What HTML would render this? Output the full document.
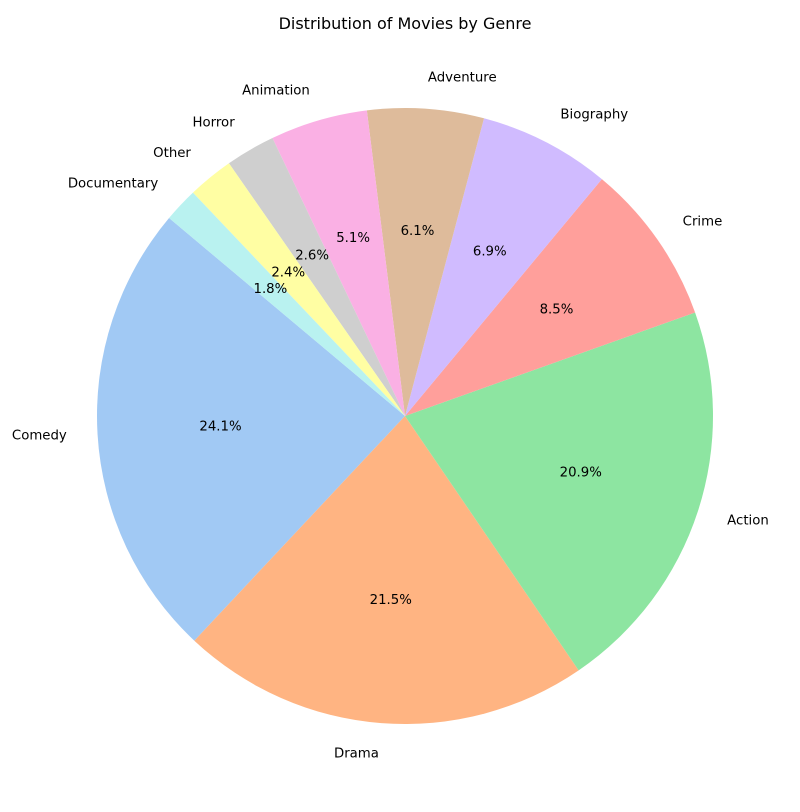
<!DOCTYPE html>
<html><head><meta charset="utf-8">
<style>
html,body{margin:0;padding:0;background:#fff;}
svg{display:block;font-family:"DejaVu Sans","Liberation Sans",sans-serif;}
</style></head>
<body>
<svg id="chart" width="800" height="812" viewBox="0 0 800 812">
<text x="405" y="29" text-anchor="middle" font-size="16" fill="#000">Distribution of Movies by Genre</text>
<g id="slices"></g>
<g id="labels"></g>
</svg>
<script>
const categories = ["Comedy","Drama","Action","Crime","Biography","Adventure","Animation","Horror","Other","Documentary"];
const values = [24.1,21.5,20.9,8.5,6.9,6.1,5.1,2.6,2.4,1.8];
const colors = ["#a1c9f4","#ffb482","#8de5a1","#ff9f9b","#d0bbff","#debb9b","#fab0e4","#cfcfcf","#fffea3","#b9f2f0"];
const startAngle = 140;
const cx = 405, cy = 416, R = 308;
const NS = "http://www.w3.org/2000/svg";
const total = values.reduce((a,b)=>a+b,0);
function pt(deg, r){ const a = deg*Math.PI/180; return [cx + r*Math.cos(a), cy - r*Math.sin(a)]; }
const gS = document.getElementById("slices"), gL = document.getElementById("labels");
let ang = startAngle;
values.forEach((v,i)=>{
  const sweep = v/total*360;
  const a0 = ang, a1 = ang + sweep, mid = ang + sweep/2;
  const p0 = pt(a0,R), p1 = pt(a1,R);
  const large = sweep > 180 ? 1 : 0;
  const path = document.createElementNS(NS,"path");
  path.setAttribute("d",`M${cx},${cy} L${p0[0]},${p0[1]} A${R},${R} 0 ${large} 0 ${p1[0]},${p1[1]} Z`);
  path.setAttribute("fill",colors[i]);
  
  
  gS.appendChild(path);
  const lp = pt(mid, R*1.1);
  const t = document.createElementNS(NS,"text");
  t.setAttribute("x", lp[0]); t.setAttribute("y", lp[1]);
  t.setAttribute("text-anchor", Math.cos(mid*Math.PI/180) >= 0 ? "start" : "end");
  t.setAttribute("dominant-baseline","central");
  t.setAttribute("font-size","13.3");
  t.textContent = categories[i];
  
  
  gL.appendChild(t);
  const pp = pt(mid, R*0.6);
  const tp = document.createElementNS(NS,"text");
  tp.setAttribute("x", pp[0]); tp.setAttribute("y", pp[1]);
  tp.setAttribute("text-anchor","middle");
  tp.setAttribute("dominant-baseline","central");
  tp.setAttribute("font-size","13.3");
  tp.textContent = v.toFixed(1) + "%";
  
  
  gL.appendChild(tp);
  ang = a1;
});
</script>
</body></html>
